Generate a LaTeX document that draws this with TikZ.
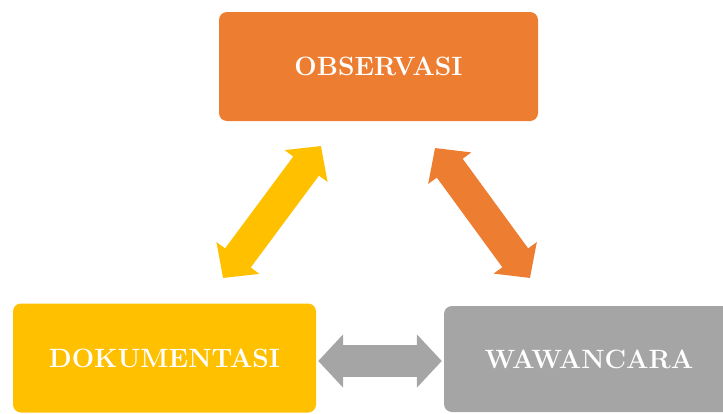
\documentclass[tikz,border=0pt]{standalone}
\usepackage{tikz}
\usetikzlibrary{arrows.meta, positioning, calc}

\definecolor{obsorange}{HTML}{ED7D31}
\definecolor{dokyellow}{HTML}{FFC000}
\definecolor{wawgray}{HTML}{A5A5A5}

\begin{document}
\begin{tikzpicture}[
  x=1pt, y=-1pt,
  box/.style={rounded corners=8pt, minimum width=319pt, minimum height=109pt, align=center,
    text=white, font=\fontsize{26.5}{30}\selectfont\bfseries},
  dblarrow/.style={line width=32pt,
    {Triangle[width=52pt, length=25pt]}-{Triangle[width=52pt, length=25pt]}}
]
  \clip (0,0) rectangle (723,413);

  \node[box, fill=obsorange] (obs) at (378.5,66.5) {OBSERVASI};
  \node[box, fill=dokyellow, minimum width=303pt] (dok) at (164.5,358) {DOKUMENTASI};
  \node[box, fill=wawgray, minimum width=290pt, minimum height=106pt] (waw) at (589,359) {WAWANCARA};

  % arrow ends
  \coordinate (dokup) at (223,278);
  \coordinate (obsleft) at (321,146);
  \coordinate (obsright) at (435,148);
  \coordinate (wawup) at (530,278);

  \draw[dblarrow, dokyellow] (dokup) -- (obsleft);
  \draw[dblarrow, obsorange] (obsright) -- (wawup);
  \draw[dblarrow, wawgray] ($(dok.east)+(2,3)$) -- ($(waw.west)+(-2,2)$);
\end{tikzpicture}
\end{document}
